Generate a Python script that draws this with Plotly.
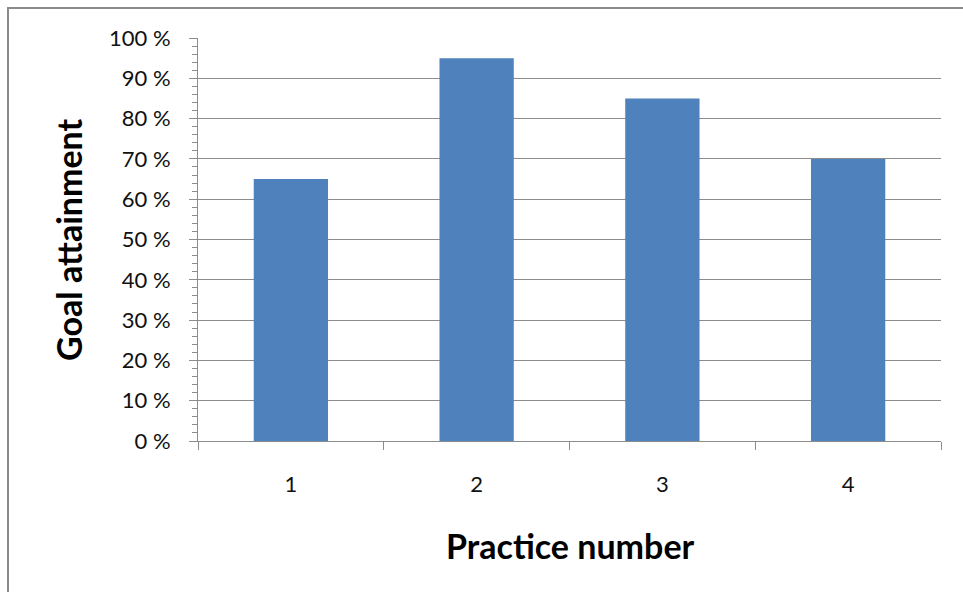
import plotly.graph_objects as go

# Goal attainment per practice session
practices = ["1", "2", "3", "4"]
attainment = [65, 95, 85, 70]
y_ticks = [0, 10, 20, 30, 40, 50, 60, 70, 80, 90, 100]

W, H = 963, 592
L, R, T, B = 198, 22, 38, 151
plot_w = W - L - R
plot_h = H - T - B

FONT = "Lato, 'Open Sans', sans-serif"
GRID = "#8c8c8c"
TEXT = "#111111"

fig = go.Figure(
    go.Bar(
        x=practices,
        y=attainment,
        width=0.4,
        marker=dict(color="#4F81BD", line=dict(width=0)),
    )
)

fig.update_layout(
    width=W,
    height=H,
    margin=dict(l=L, r=R, t=T, b=B),
    paper_bgcolor="white",
    plot_bgcolor="white",
    showlegend=False,
    font=dict(family=FONT, color=TEXT, size=22),
)

fig.update_xaxes(
    type="category",
    tickson="boundaries",
    ticks="outside",
    ticklen=8,
    tickcolor=GRID,
    tickwidth=1,
    showgrid=False,
    showline=True,
    linecolor=GRID,
    linewidth=1,
    ticklabelstandoff=24,
    tickfont=dict(size=22, family=FONT, color=TEXT),
)

fig.update_yaxes(
    range=[0, 100],
    tickvals=y_ticks,
    ticktext=[f"{v} %" for v in y_ticks],
    ticks="outside",
    ticklen=8,
    tickcolor=GRID,
    showgrid=True,
    gridcolor=GRID,
    gridwidth=1,
    showline=True,
    linecolor=GRID,
    linewidth=1,
    zeroline=False,
    ticklabelstandoff=14,
    tickfont=dict(size=22, family=FONT, color=TEXT),
    minor=dict(dtick=2, ticks="outside", ticklen=5, tickcolor=GRID, showgrid=False),
)

# Outer chart frame (top and left edges visible)
fig.add_shape(
    type="rect",
    xref="paper", yref="paper",
    x0=(8 - L) / plot_w, x1=2.0,
    y0=-2.0, y1=1 + (T - 8) / plot_h,
    line=dict(color="#8a8a8a", width=2),
    fillcolor="rgba(0,0,0,0)",
    layer="below",
)

# Axis titles
fig.add_annotation(
    text="<b>Goal attainment</b>",
    xref="paper", yref="paper",
    x=(68 - L) / plot_w, y=(H - B - 240) / plot_h,
    textangle=-90, showarrow=False,
    font=dict(size=34, family=FONT, color="#000000"),
    xanchor="center", yanchor="middle",
)
fig.add_annotation(
    text="<b>Practice number</b>",
    xref="paper", yref="paper",
    x=(570 - L) / plot_w, y=(H - B - 545) / plot_h,
    showarrow=False,
    font=dict(size=34, family=FONT, color="#000000"),
    xanchor="center", yanchor="middle",
)

fig.write_html("out.html")
